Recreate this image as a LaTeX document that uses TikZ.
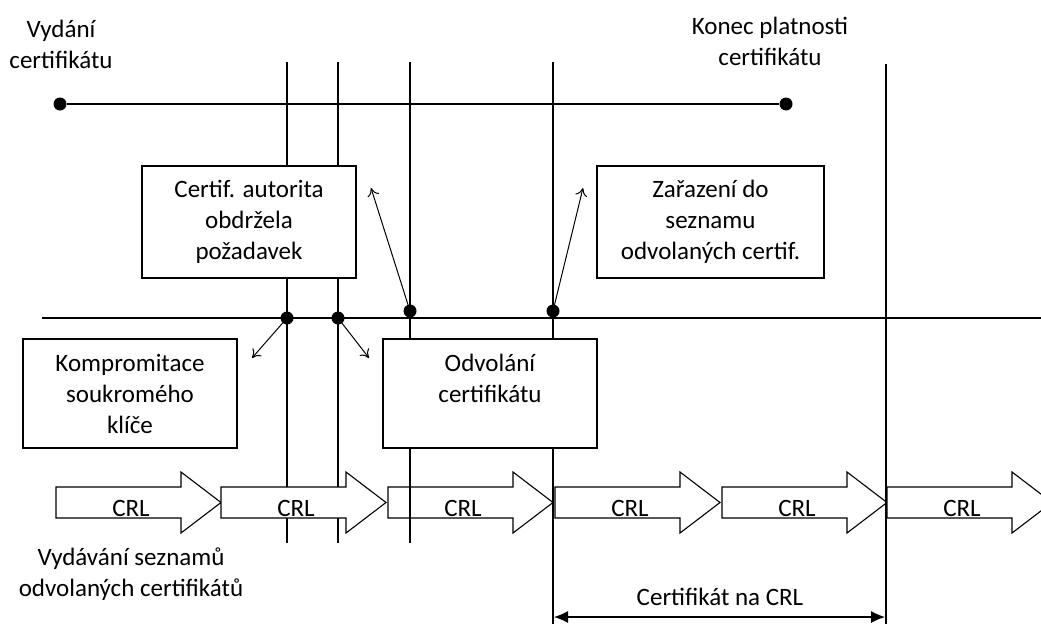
\documentclass[tikz,border=0pt]{standalone}
\usepackage{fontspec}
\setmainfont{Carlito}
\usetikzlibrary{arrows.meta}

\begin{document}
\begin{tikzpicture}[x=1pt, y=-1pt, line width=1.3pt,
        font=\fontsize{25}{31}\selectfont,
        infobox/.style={draw, fill=white, align=center, inner sep=0pt},
        dot/.style={circle, fill, inner sep=0pt, minimum size=13pt},
        pointer/.style={line width=1pt, -{To[length=8pt, width=12pt]}},
        crlshape/.style={draw, fill=white, line width=1.1pt}]
        \useasboundingbox (0,0) rectangle (1041,624);
        \clip (0,0) rectangle (1041,624);

        % Paths, nodes and wires:
        \coordinate (osa1) at (42,318);
        \coordinate (osa2) at (1041,318);
        \foreach \n/\x/\t/\b in {1/287/62/543, 2/338/62/543, 3/410/62/543, 4/553/62/624, 5/886/64/624} {
                \coordinate (v\n t) at (\x,\t);
                \coordinate (v\n b) at (\x,\b);
        }
        \node[dot] (vydani) at (60,104) {};
        \node[dot] (konec) at (786,104) {};
        \draw (vydani) -- (konec);
        \draw (osa1) -- (osa2);
        \draw (v1t) -- (v1b);
        \draw (v2t) -- (v2b);

        % CRL arrows
        \foreach \s [count=\i] in {56, 221, 388, 555, 722, 887} {
                \draw[crlshape] (\s,487) -- (\s+125,487) -- (\s+125,472) -- (\s+165,502.5)
                        -- (\s+125,533) -- (\s+125,518) -- (\s,518) -- cycle;
                \node (crl\i) at (\s+75,508) {CRL};
        }
        \draw (v3t) -- (v3b);
        \draw (v4t) -- (v4b);
        \draw (v5t) -- (v5b);

        \node[infobox, minimum width=214pt, minimum height=112pt] (autorita) at (249,222) {Certif. autorita\\obdržela\\požadavek};
        \node[infobox, minimum width=227pt, minimum height=112pt] (zarazeni) at (710.5,222) {Zařazení do\\seznamu\\odvolaných certif.};
        \node[infobox, minimum width=214pt, minimum height=109pt] (kompromitace) at (130,393.5) {Kompromitace\\soukromého\\klíče};
        \node[infobox, minimum width=214pt, minimum height=109pt] (odvolani) at (490,393.5) {Odvolání\\certifikátu\\\mbox{}};

        \node[dot] (d1) at (287,318) {};
        \node[dot] (d2) at (338,318) {};
        \node[dot] (d3) at (410,311) {};
        \node[dot] (d4) at (553,311) {};
        \coordinate (p1) at (252,358);
        \coordinate (p2) at (369,358);
        \coordinate (p3) at (371,188);
        \coordinate (p4) at (583,188);
        \draw[pointer] (d1.center) -- (p1);
        \draw[pointer] (d2.center) -- (p2);
        \draw[pointer] (d3.center) -- (p3);
        \draw[pointer] (d4.center) -- (p4);

        \node[align=center] (vydanitxt) at (61,44) {Vydání\\certifikátu};
        \node[align=center] (konectxt) at (770,41) {Konec platnosti\\certifikátu};
        \node[align=center] (seznamtxt) at (131,574) {Vydávání seznamů\\odvolaných certifikátů};
        \coordinate (c1) at (554,617);
        \coordinate (c2) at (885,617);
        \draw[{Latex[length=14pt, width=12pt]}-{Latex[length=14pt, width=12pt]}, line width=1.1pt] (c1) -- (c2);
        \node (crlplatnost) at (720,597) {Certifikát na CRL};
    \end{tikzpicture}
\end{document}
